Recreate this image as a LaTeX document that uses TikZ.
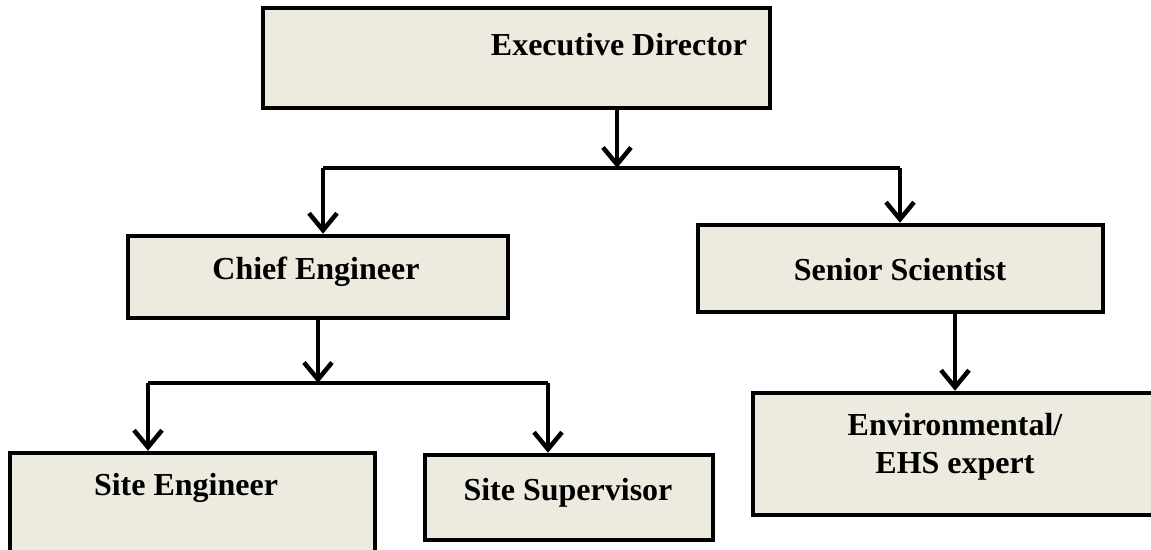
\documentclass[tikz,border=0pt]{standalone}
\usepackage{fontspec}
\setmainfont{Liberation Serif}
\usetikzlibrary{arrows.meta,shadows,calc}

\definecolor{boxfill}{RGB}{237,235,224}

\tikzset{
	box/.style={draw=black, line width=4.5pt, fill=boxfill, inner sep=0pt,
		drop shadow={opacity=0.25, shadow xshift=2pt, shadow yshift=-2pt}},
	boxtext/.style={font=\bfseries\fontsize{32}{38}\selectfont, align=center, anchor=center},
	link/.style={line width=4.5pt},
	arr/.style={line width=4.5pt, -{Straight Barb[length=17pt, width=28pt, line width=4.5pt]}}
}

\begin{document}
\begin{tikzpicture}[x=1pt, y=-1pt]
	\useasboundingbox (0, 0) rectangle (1151, 549);
	\clip (0, 0) rectangle (1151, 549);

	% boxes
	\node[box, minimum width=507pt, minimum height=100pt] (ed) at (516.5, 58) {};
	\node[box, minimum width=380pt, minimum height=82pt] (ce) at (318, 277) {};
	\node[box, minimum width=405pt, minimum height=87pt] (ss) at (900.5, 268.5) {};
	\node[box, minimum width=365pt, minimum height=110pt] (se) at (192.5, 508) {};
	\node[box, minimum width=288pt, minimum height=85pt] (sv) at (569, 497.5) {};
	\node[box, minimum width=410pt, minimum height=122pt] (ehs) at (958, 454) {};

	% texts
	\node[boxtext] (ed-t) at (619, 45) {Executive Director};
	\node[boxtext] (ce-t) at (316, 272) {Chief Engineer};
	\node[boxtext] (ss-t) at (900, 270) {Senior Scientist};
	\node[boxtext] (se-t) at (186, 488) {Site Engineer};
	\node[boxtext] (sv-t) at (568, 493) {Site Supervisor};
	\node[boxtext] (ehs-t) at (955, 447) {Environmental/\\EHS expert};

	% connectors
	\coordinate (j1) at (617, 168);
	\coordinate (j1l) at (323, 168);
	\coordinate (j1r) at (900, 168);
	\coordinate (j2) at (318, 383);
	\coordinate (j2l) at (148, 383);
	\coordinate (j2r) at (548, 383);

	\draw[arr] (ed.south -| j1) -- (j1);
	\draw[link] (j1l) -- (j1r);
	\draw[arr] (j1l) -- (ce.north -| j1l);
	\draw[arr] (j1r) -- (ss.north -| j1r);

	\draw[arr] (ce.south -| j2) -- (j2);
	\draw[link] (j2l) -- (j2r);
	\draw[arr] (j2l) -- (se.north -| j2l);
	\draw[arr] (j2r) -- (sv.north -| j2r);

	\draw[arr] (ss.south -| 955, 0) -- (ehs.north -| 955, 0);
\end{tikzpicture}
\end{document}
